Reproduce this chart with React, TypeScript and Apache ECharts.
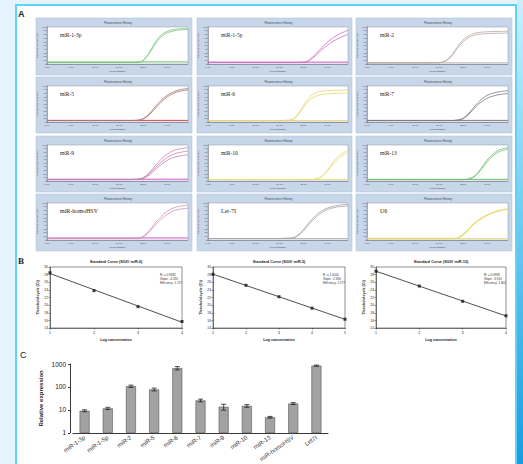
import React, { useEffect, useRef } from "react";
import * as echarts from "echarts";

// ---------- Panel A data (qPCR amplification curves) ----------
const CYCLES = [0, 4, 8, 12, 16, 20, 24, 26, 28, 30, 32, 34, 36, 38, 40, 42, 44, 47];
const PANEL_NAMES = [
  "miR-1-3p", "miR-1-5p", "miR-2",
  "miR-5", "miR-6", "miR-7",
  "miR-9", "miR-10", "miR-13",
  "miR-homoHSV", "Let-7I", "U6",
];
const CURVE_COLORS = [
  "#7cc67c", "#d070c4", "#b8aaa2",
  "#b07474", "#e6d66e", "#7e7e7e",
  "#c484b4", "#e8dc78", "#70c270",
  "#cc94bc", "#a4a4a4", "#e8dc70",
];
const BASELINE_COLORS = [
  "#5cb85c", "#c83cbc", "#c4b8b0",
  "#cc3434", "#e6d66e", "#6e6e6e",
  "#cc44c8", "#e8dc78", "#5cb85c",
  "#d040c8", "#b0b0b0", "#e8dc70",
];
const NEG_LEVELS = [5.5, 5, 3.5, 4.5, 4, 4.5, 5, 4, 4.5, 5.5, 4, 4];

const CURVES_MIR1_3P = [
  [4, 4, 4, 4, 4, 4, 4, 4, 4, 4.5, 10, 30, 58, 78, 88, 93, 95, 96],
  [4, 4, 4, 4, 4, 4, 4, 4, 4, 4.5, 9, 27, 53, 73, 84, 89, 92, 93],
];
const CURVES_MIR1_5P = [
  [4, 4, 4, 4, 4, 4, 4, 4, 4, 4, 4.5, 11, 26, 43, 58, 71, 81, 91],
  [4, 4, 4, 4, 4, 4, 4, 4, 4, 4, 4.5, 9, 22, 37, 50, 61, 70, 80],
];
const CURVES_MIR2 = [
  [3, 3, 3, 3, 3, 3, 3.5, 8, 22, 45, 65, 77, 83, 86, 87, 88, 88, 89],
  [3, 3, 3, 3, 3, 3, 3.5, 7, 19, 41, 60, 72, 78, 81, 82, 83, 83, 84],
];
const CURVES_MIR5 = [
  [4, 4, 4, 4, 4, 4, 4, 4, 4, 4.5, 9, 22, 42, 60, 74, 83, 89, 93],
  [4, 4, 4, 4, 4, 4, 4, 4, 4, 4.5, 8, 19, 37, 55, 69, 79, 85, 89],
];
const CURVES_MIR6 = [
  [4, 4, 4, 4, 4, 4, 4, 4.5, 6, 20, 45, 68, 80, 85, 87, 88, 88, 89],
  [4, 4, 4, 4, 4, 4, 4, 4.5, 6, 17, 40, 60, 71, 76, 78, 79, 80, 80],
];
const CURVES_MIR7 = [
  [4, 4, 4, 4, 4, 4, 4, 4, 4, 5, 10, 25, 45, 62, 74, 80, 84, 87],
  [4, 4, 4, 4, 4, 4, 4, 4, 4, 5, 9, 22, 40, 55, 66, 72, 76, 79],
];
const CURVES_MIR9 = [
  [4, 4, 4, 4, 4, 4, 4, 4, 4, 4.5, 9, 22, 42, 60, 74, 84, 89, 93],
  [4, 4, 4, 4, 4, 4, 4, 4, 4, 4.5, 8, 19, 36, 52, 65, 74, 79, 83],
  [4, 4, 4, 4, 4, 4, 4, 4, 4, 4.5, 7, 16, 31, 45, 57, 65, 69, 73],
];
const CURVES_MIR10 = [
  [4, 4, 4, 4, 4, 4, 4, 4, 4, 4, 4, 4, 5, 12, 30, 52, 70, 86],
  [4, 4, 4, 4, 4, 4, 4, 4, 4, 4, 4, 4, 5, 11, 27, 47, 64, 80],
];
const CURVES_MIR13 = [
  [4, 4, 4, 4, 4, 4, 4, 4, 4, 4, 4, 6, 15, 35, 58, 75, 86, 93],
  [4, 4, 4, 4, 4, 4, 4, 4, 4, 4, 4, 5.5, 13, 31, 53, 70, 81, 89],
];
const CURVES_HOMOHSV = [
  [4, 4, 4, 4, 4, 4, 4, 4, 4, 4.5, 10, 25, 45, 63, 77, 86, 91, 94],
  [4, 4, 4, 4, 4, 4, 4, 4, 4, 4.5, 8, 21, 39, 56, 69, 78, 83, 86],
];
const CURVES_LET7 = [
  [4, 4, 4, 4, 4, 4, 4, 4.5, 5, 12, 28, 48, 65, 78, 86, 91, 94, 96],
  [4, 4, 4, 4, 4, 4, 4, 4.5, 5, 10, 24, 43, 60, 73, 82, 87, 90, 92],
];
const CURVES_U6 = [
  [4, 4, 4, 4, 4, 4, 4, 4, 4, 5, 14, 30, 46, 58, 67, 74, 79, 84],
];
const PANEL_CURVES = [
  CURVES_MIR1_3P, CURVES_MIR1_5P, CURVES_MIR2,
  CURVES_MIR5, CURVES_MIR6, CURVES_MIR7,
  CURVES_MIR9, CURVES_MIR10, CURVES_MIR13,
  CURVES_HOMOHSV, CURVES_LET7, CURVES_U6,
];

// ---------- Panel B data (standard curves) ----------
const SC_TITLES = [
  "Standard Curve (SGIV miR-6)",
  "Standard Curve (SGIV miR-5)",
  "Standard Curve (SGIV miR-10)",
];
const SC1_LOG = [1, 2, 3, 4];
const SC1_CT = [28.5, 23.8, 19.6, 15.7];
const SC2_LOG = [1, 2, 3, 4, 5];
const SC2_CT = [28.1, 25.2, 22.2, 19.2, 16.3];
const SC3_LOG = [1, 2, 3, 4];
const SC3_CT = [28.9, 25.0, 21.0, 17.2];
const SC_SETS = [
  [SC1_LOG, SC1_CT],
  [SC2_LOG, SC2_CT],
  [SC3_LOG, SC3_CT],
];

// ---------- Panel C data (relative expression) ----------
const BAR_CATEGORIES = [
  "miR-1-3p", "miR-1-5p", "miR-2", "miR-5", "miR-6", "miR-7",
  "miR-9", "miR-10", "miR-13", "miR-homoHSV", "Let7I",
];
const BAR_VALUES = [9.2, 11.7, 108, 78, 660, 26, 13.7, 15, 4.8, 19, 850];
const BAR_ERRORS = [0.9, 1.3, 12, 11, 110, 3.5, 4, 2, 0.4, 1.8, 50];

// ---------- layout (pixels) ----------
const COLS = [[36, 192], [197, 352], [356, 512]];
const ROWS = [[18, 75], [77, 133], [136, 192], [194, 251]];
const SC_BOX = [[50, 182], [213, 345], [376, 506]];
const SC_TOP = 267;
const SC_BOTTOM = 328;

function fit(xs: number[], ys: number[]) {
  const n = xs.length;
  const mx = xs.reduce((a, b) => a + b, 0) / n;
  const my = ys.reduce((a, b) => a + b, 0) / n;
  let sxy = 0, sxx = 0, syy = 0;
  for (let i = 0; i < n; i++) {
    sxy += (xs[i] - mx) * (ys[i] - my);
    sxx += (xs[i] - mx) ** 2;
    syy += (ys[i] - my) ** 2;
  }
  const slope = sxy / sxx;
  const intercept = my - slope * mx;
  const r2 = (sxy * sxy) / (sxx * syy);
  return { slope, intercept, r2 };
}

function buildOption() {
  const grid: any[] = [];
  const xAxis: any[] = [];
  const yAxis: any[] = [];
  const series: any[] = [];
  const graphic: any[] = [];

  // backgrounds
  graphic.push({ type: "rect", shape: { x: 0, y: 0, width: 523, height: 464 }, style: { fill: "#e4f3fc" }, z: -10, silent: true });
  graphic.push({
    type: "rect", shape: { x: 517, y: 0, width: 6, height: 464 },
    style: {
      fill: new echarts.graphic.LinearGradient(0, 0, 0, 1, [
        { offset: 0, color: "#cdeffc" },
        { offset: 0.5, color: "#6cc8f0" },
        { offset: 1, color: "#159ee2" },
      ]),
    },
    z: -10, silent: true,
  });
  graphic.push({ type: "rect", shape: { x: 16, y: 5, width: 500, height: 470 }, style: { fill: "#ffffff", stroke: "#5fd3f5", lineWidth: 2 }, z: -9, silent: true });

  graphic.push({ type: "text", x: 18, y: 9, style: { text: "A", font: "bold 9px 'Liberation Sans'", fill: "#222" }, silent: true });
  graphic.push({ type: "text", x: 18, y: 256, style: { text: "B", font: "bold 9px 'Liberation Serif'", fill: "#222" }, silent: true });
  graphic.push({ type: "text", x: 20, y: 350, style: { text: "C", font: "9px 'Liberation Sans'", fill: "#222" }, silent: true });

  // Panel A
  for (let p = 0; p < 12; p++) {
    const r = Math.floor(p / 3);
    const c = p % 3;
    const [x1, x2] = COLS[c];
    const [y1, y2] = ROWS[r];
    graphic.push({ type: "rect", shape: { x: x1, y: y1, width: x2 - x1, height: y2 - y1 }, style: { fill: "#c7d6e8", stroke: "#b6c7dc", lineWidth: 0.6 }, z: -5, silent: true });
    graphic.push({ type: "text", x: (x1 + x2) / 2 + 4, y: y1 + 3, style: { text: "Fluorescence History", font: "3px 'Liberation Sans'", fill: "#3a4656", align: "center" }, silent: true });
    const gl = x1 + 11, gt = y1 + 9, gw = (x2 - 4) - (x1 + 11), gh = (y2 - 11) - (y1 + 9);
    grid.push({ left: gl, top: gt, width: gw, height: gh, show: true, backgroundColor: "#ffffff", borderColor: "#8896a8", borderWidth: 0.5 });
    graphic.push({ type: "text", x: gl + 13, y: gt + 5, style: { text: PANEL_NAMES[p], font: (r === 3 ? "6px" : "5.5px") + " 'Liberation Serif'", fill: "#222" }, z: 20, silent: true });
    xAxis.push({
      type: "value", gridIndex: p, min: 0, max: 47, interval: 8,
      axisLine: { lineStyle: { color: "#667", width: 0.5 } },
      axisTick: { length: 1, lineStyle: { width: 0.4 } },
      axisLabel: { fontSize: 2.5, color: "#445", margin: 1.5, showMaxLabel: false, formatter: (v: number) => v.toFixed(2) },
      splitLine: { show: false },
      name: "Cycle Number", nameLocation: "middle", nameGap: 6,
      nameTextStyle: { fontSize: 2.5, color: "#334" },
    });
    yAxis.push({
      type: "value", gridIndex: p, min: 0, max: 100, interval: 10,
      axisLine: { show: true, lineStyle: { color: "#667", width: 0.5 } },
      axisTick: { show: true, length: 1, lineStyle: { width: 0.4 } },
      axisLabel: { fontSize: 2.2, color: "#445", margin: 1 },
      splitLine: { show: false },
      name: "Fluorescence (465-510)", nameLocation: "middle", nameGap: 6.5,
      nameTextStyle: { fontSize: 2.4, color: "#334" },
    });
    series.push({
      type: "line", xAxisIndex: p, yAxisIndex: p, silent: true, showSymbol: false,
      data: CYCLES.map((x) => [x, NEG_LEVELS[p]]),
      lineStyle: { color: BASELINE_COLORS[p], width: 0.9 },
    });
    PANEL_CURVES[p].forEach((curve) => {
      series.push({
        type: "line", xAxisIndex: p, yAxisIndex: p, silent: true, showSymbol: false, smooth: 0.35,
        data: CYCLES.map((x, i) => [x, curve[i]]),
        lineStyle: { color: CURVE_COLORS[p], width: p === 11 ? 1.4 : 0.8 },
      });
    });
  }

  // Panel B
  SC_SETS.forEach(([xs, ys], k) => {
    const gi = 12 + k;
    const [bx1, bx2] = SC_BOX[k];
    grid.push({ left: bx1, top: SC_TOP, width: bx2 - bx1, height: SC_BOTTOM - SC_TOP, show: true, backgroundColor: "#fff", borderColor: "#444", borderWidth: 0.6 });
    const maxX = xs[xs.length - 1];
    xAxis.push({
      type: "value", gridIndex: gi, min: 1, max: maxX, interval: 1,
      axisLine: { lineStyle: { color: "#333", width: 0.6 } },
      axisTick: { length: 1.5, inside: false, lineStyle: { width: 0.5 } },
      axisLabel: { fontSize: 3.5, color: "#222", margin: 2.5 },
      splitLine: { show: false },
      name: "Log concentration", nameLocation: "middle", nameGap: 10,
      nameTextStyle: { fontSize: 3.6, color: "#222", fontWeight: "bold" },
    });
    yAxis.push({
      type: "value", gridIndex: gi, min: 14, max: 30, interval: 2,
      axisLine: { show: true, lineStyle: { color: "#333", width: 0.6 } },
      axisTick: { show: true, length: 1.5, lineStyle: { width: 0.5 } },
      axisLabel: { fontSize: 3.3, color: "#222", margin: 2 },
      splitLine: { show: false },
      name: "Threshold cycle (Ct)", nameLocation: "middle", nameGap: 10,
      nameTextStyle: { fontSize: 3.6, color: "#222", fontWeight: "bold" },
    });
    const f = fit(xs, ys);
    series.push({
      type: "line", xAxisIndex: gi, yAxisIndex: gi, silent: true, showSymbol: false,
      data: [[xs[0], f.intercept + f.slope * xs[0]], [maxX, f.intercept + f.slope * maxX]],
      lineStyle: { color: "#222", width: 0.8 },
    });
    series.push({
      type: "scatter", xAxisIndex: gi, yAxisIndex: gi, silent: true,
      symbol: "rect", symbolSize: 3,
      data: xs.map((x, i) => [x, ys[i]]),
      itemStyle: { color: "#111" },
    });
    graphic.push({ type: "text", x: (bx1 + bx2) / 2, y: 260, style: { text: SC_TITLES[k], font: "bold 3.8px 'Liberation Sans'", fill: "#222", align: "center" }, silent: true });
    const eff = Math.pow(10, -1 / f.slope);
    const lines = [
      "R² = " + f.r2.toFixed(4),
      "Slope: " + f.slope.toFixed(3),
      "Efficiency: " + eff.toFixed(3),
    ];
    lines.forEach((t, j) => {
      graphic.push({ type: "text", x: bx2 - 22, y: SC_TOP + 6 + j * 4.2, style: { text: t, font: "3px 'Liberation Sans'", fill: "#333" }, z: 20, silent: true });
    });
  });

  // Panel C
  const gc = 15;
  grid.push({ left: 73, top: 364, width: 255, height: 70 });
  xAxis.push({
    type: "category", gridIndex: gc, data: BAR_CATEGORIES,
    axisLine: { lineStyle: { color: "#222", width: 0.9 } },
    axisTick: { length: 2, lineStyle: { width: 0.9 } },
    axisLabel: { fontSize: 6, color: "#333", rotate: 35, margin: 4, interval: 0, fontFamily: "Liberation Sans" },
  });
  yAxis.push({
    type: "log", gridIndex: gc, min: 1, max: 1000, logBase: 10, offset: 3,
    axisLine: { show: true, lineStyle: { color: "#222", width: 0.9 } },
    axisTick: { show: true, length: 2, lineStyle: { width: 0.9 } },
    axisLabel: { fontSize: 6.5, color: "#222", margin: 4, fontFamily: "Liberation Sans", formatter: (v: number) => String(Math.round(v)) },
    splitLine: { show: false },
    minorTick: { show: false },
    name: "Relative expression", nameLocation: "middle", nameGap: 26,
    nameTextStyle: { fontSize: 6, color: "#222", fontWeight: "bold", fontFamily: "Liberation Sans" },
  });
  series.push({
    type: "bar", xAxisIndex: gc, yAxisIndex: gc, silent: true, barWidth: 10,
    data: BAR_VALUES,
    itemStyle: { color: "#a2a2a2", borderColor: "#555", borderWidth: 0.6 },
  });
  series.push({
    type: "custom", xAxisIndex: gc, yAxisIndex: gc, silent: true,
    data: BAR_VALUES.map((v, i) => [i, v, BAR_ERRORS[i]]),
    encode: { x: 0, y: 1 },
    z: 10,
    renderItem: (_params: any, api: any) => {
      const i = api.value(0);
      const v = api.value(1);
      const e = api.value(2);
      const hi = api.coord([i, v + e]);
      const lo = api.coord([i, v - e]);
      const w = 2.5;
      const st = { stroke: "#222", lineWidth: 0.8 };
      return {
        type: "group",
        children: [
          { type: "line", shape: { x1: hi[0], y1: hi[1], x2: lo[0], y2: lo[1] }, style: st },
          { type: "line", shape: { x1: hi[0] - w, y1: hi[1], x2: hi[0] + w, y2: hi[1] }, style: st },
          { type: "line", shape: { x1: lo[0] - w, y1: lo[1], x2: lo[0] + w, y2: lo[1] }, style: st },
        ],
      };
    },
  });

  return {
    animation: false,
    backgroundColor: "transparent",
    textStyle: { fontFamily: "Liberation Sans" },
    grid, xAxis, yAxis, series, graphic,
  };
}

export default function App() {
  const ref = useRef<HTMLDivElement>(null);
  useEffect(() => {
    if (!ref.current) return;
    const chart = echarts.init(ref.current, undefined, { renderer: "svg" });
    chart.setOption(buildOption() as any);
    return () => chart.dispose();
  }, []);
  return (
    <div
      ref={ref}
      style={{ position: "absolute", left: 0, top: 0, width: 523, height: 464 }}
    />
  );
}
